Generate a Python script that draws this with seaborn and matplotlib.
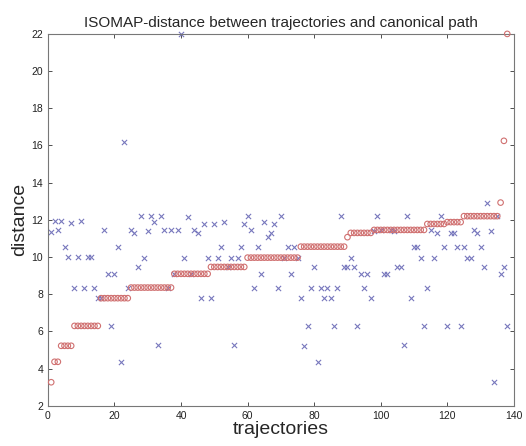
import numpy as np
import pandas as pd
import matplotlib
matplotlib.use("Agg")
import matplotlib.pyplot as plt
import seaborn as sns

# ISOMAP distance of the canonical path (sorted, red circles)
canonical = [
    3.27, 4.37, 4.37, 5.23, 5.23, 5.23, 5.23,
    6.30, 6.30, 6.30, 6.30, 6.30, 6.30, 6.30, 6.30,
    7.79, 7.79, 7.79, 7.79, 7.79, 7.79, 7.79, 7.79, 7.79,
    8.36, 8.36, 8.36, 8.36, 8.36, 8.36, 8.36, 8.36, 8.36, 8.36, 8.36, 8.36, 8.36,
    9.10, 9.10, 9.10, 9.10, 9.10, 9.10, 9.10, 9.10, 9.10, 9.10, 9.10,
    9.47, 9.47, 9.47, 9.47, 9.47, 9.47, 9.47, 9.47, 9.47, 9.47, 9.47,
    9.97, 9.97, 9.97, 9.97, 9.97, 9.97, 9.97, 9.97, 9.97, 9.97, 9.97, 9.97, 9.97, 9.97, 9.97, 9.97,
    10.56, 10.56, 10.56, 10.56, 10.56, 10.56, 10.56, 10.56, 10.56, 10.56, 10.56, 10.56, 10.56, 10.56,
    11.07,
    11.30, 11.30, 11.30, 11.30, 11.30, 11.30, 11.30,
    11.46, 11.46, 11.46, 11.46, 11.46, 11.46, 11.46, 11.46, 11.46, 11.46, 11.46, 11.46, 11.46, 11.46, 11.46, 11.46,
    11.78, 11.78, 11.78, 11.78, 11.78, 11.78,
    11.88, 11.88, 11.88, 11.88, 11.88,
    12.20, 12.20, 12.20, 12.20, 12.20, 12.20, 12.20, 12.20, 12.20, 12.20, 12.20,
    12.93, 16.25, 22.00,
]

# distance of each trajectory (blue crosses)
trajectory = [
    11.37, 11.95, 11.45, 11.95, 10.53, 9.98, 11.82, 8.36, 9.98, 11.92,
    8.36, 9.98, 9.98, 8.36, 7.79, 7.79, 11.46, 9.08, 6.30, 9.08,
    10.56, 4.38, 16.20, 8.36, 11.46, 11.30, 9.47, 12.20, 9.97, 11.40,
    12.20, 11.90, 5.25, 12.20, 11.46, 8.36, 11.46, 9.10, 11.46, 22.00,
    9.97, 12.18, 9.10, 11.46, 11.30, 7.79, 11.77, 9.97, 7.79, 11.77,
    9.97, 10.56, 11.91, 9.47, 9.97, 5.25, 9.97, 10.56, 11.77, 12.23,
    11.46, 8.36, 10.56, 9.10, 11.91, 11.07, 11.28, 11.77, 8.36, 12.23,
    9.97, 10.56, 9.10, 10.56, 9.97, 7.79, 5.24, 6.30, 8.36, 9.49,
    4.38, 8.36, 7.79, 8.36, 7.79, 6.30, 8.36, 12.23, 9.49, 9.49,
    9.97, 9.49, 6.30, 9.10, 8.36, 9.10, 7.79, 11.40, 12.23, 11.46,
    9.10, 9.10, 11.46, 11.40, 9.49, 9.49, 5.25, 12.23, 7.79, 10.56,
    10.56, 9.97, 6.30, 8.36, 11.46, 9.97, 11.28, 12.23, 10.56, 6.32,
    11.32, 11.32, 10.53, 6.32, 10.53, 9.97, 9.97, 11.46, 11.28, 10.53,
    9.46, 12.93, 11.40, 3.27, 12.20, 9.10, 9.46, 6.32,
]

index = np.arange(1, len(canonical) + 1)
df = pd.DataFrame({"trajectory": index, "canonical": canonical, "distance": trajectory})

sns.set_style("ticks")
plt.rcParams["font.family"] = ["Liberation Sans", "DejaVu Sans"]

fig = plt.figure(figsize=(5.26, 4.46), dpi=100)
ax = fig.add_axes([0.091, 0.090, 0.886, 0.834])

# markers are not clipped at the axes edge (points at 22 sit on the top border)
sns.scatterplot(data=df, x="trajectory", y="distance", marker="x", color="#7878bd",
                s=14, linewidth=0.8, ax=ax, zorder=2, clip_on=False)
sns.scatterplot(data=df, x="trajectory", y="canonical", marker="o", fc="none",
                ec="#d07070", s=16, linewidth=0.8, ax=ax, zorder=3, clip_on=False)

ax.set_xlim(0, 140)
ax.set_ylim(2, 22)
ax.set_xticks(range(0, 141, 20))
ax.set_yticks(range(2, 23, 2))
ax.tick_params(direction="in", top=True, right=True, labelsize=7.5, length=3,
               width=0.6, colors="#333333", labelcolor="#222222")
for sp in ax.spines.values():
    sp.set_linewidth(0.8)
    sp.set_color("#777777")

ax.set_title("ISOMAP-distance between trajectories and canonical path", fontsize=11, pad=5)
ax.set_xlabel("trajectories", fontsize=14, labelpad=0)
ax.set_ylabel("distance", fontsize=14, labelpad=2)

fig.savefig("out.png", dpi=100)
